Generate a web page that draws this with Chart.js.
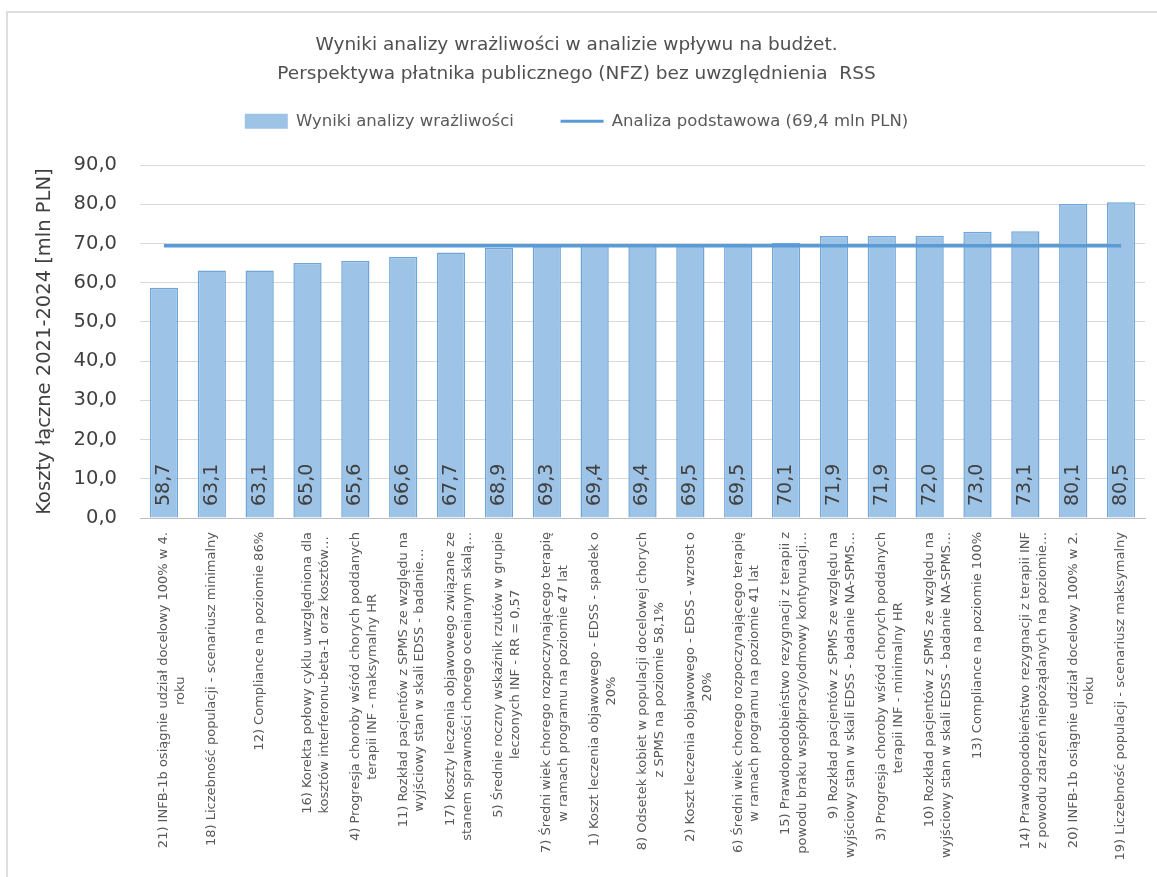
<!DOCTYPE html>
<html>
<head>
<meta charset="utf-8">
<script src="https://cdn.jsdelivr.net/npm/chart.js@4.4.1/dist/chart.umd.min.js"></script>
<style>
  html, body { margin: 0; padding: 0; background: #fff; overflow: hidden; }
  .frame {
    position: absolute; left: 6px; top: 11px;
    width: 1160px; height: 866px;
    border: 2px solid #dedede;
  }
  canvas { display: block; }
</style>
</head>
<body>
<div class="frame">
  <canvas id="chart" width="1160" height="866"></canvas>
</div>
<script>
// scenariusze analizy wrażliwości (etykiety osi X)
const scenarios = [
    ["21) INFB-1b osiągnie udział docelowy 100% w 4.", "roku"],
    ["18) Liczebność populacji - scenariusz minimalny"],
    ["12) Compliance na poziomie 86%"],
    ["16) Korekta połowy cyklu uwzględniona dla", "kosztów interferonu-beta-1 oraz kosztów…"],
    ["4) Progresja choroby wśród chorych poddanych", "terapii INF - maksymalny HR"],
    ["11) Rozkład pacjentów z SPMS ze względu na", "wyjściowy stan w skali EDSS - badanie…"],
    ["17) Koszty leczenia objawowego związane ze", "stanem sprawności chorego ocenianym skalą…"],
    ["5) Średnie roczny wskaźnik rzutów w grupie", "leczonych INF - RR = 0,57"],
    ["7) Średni wiek chorego rozpoczynającego terapię", "w ramach programu na poziomie 47 lat"],
    ["1) Koszt leczenia objawowego - EDSS - spadek o", "20%"],
    ["8) Odsetek kobiet w populacji docelowej chorych", "z SPMS na poziomie 58,1%"],
    ["2) Koszt leczenia objawowego - EDSS - wzrost o", "20%"],
    ["6) Średni wiek chorego rozpoczynającego terapię", "w ramach programu na poziomie 41 lat"],
    ["15) Prawdopodobieństwo rezygnacji z terapii z", "powodu braku współpracy/odmowy kontynuacji…"],
    ["9) Rozkład pacjentów z SPMS ze względu na", "wyjściowy stan w skali EDSS - badanie NA-SPMS…"],
    ["3) Progresja choroby wśród chorych poddanych", "terapii INF - minimalny HR"],
    ["10) Rozkład pacjentów z SPMS ze względu na", "wyjściowy stan w skali EDSS - badanie NA-SPMS…"],
    ["13) Compliance na poziomie 100%"],
    ["14) Prawdopodobieństwo rezygnacji z terapii INF", "z powodu zdarzeń niepożądanych na poziomie…"],
    ["20) INFB-1b osiągnie udział docelowy 100% w 2.", "roku"],
    ["19) Liczebność populacji - scenariusz maksymalny"],
];

// koszty łączne 2021-2024 [mln PLN]
const sensitivity = [58.7, 63.1, 63.1, 65.0, 65.6, 66.6, 67.7, 68.9, 69.3, 69.4, 69.4,
    69.5, 69.5, 70.1, 71.9, 71.9, 72.0, 73.0, 73.1, 80.1, 80.5];
const baseCase = 69.4;
const baseLine = scenarios.map(() => baseCase);

const yTicks = [0, 10, 20, 30, 40, 50, 60, 70, 80, 90];

const FONT = "'DejaVu Sans', sans-serif";
const BAR_FILL = "#9dc3e6";
const BAR_EDGE = "#6fa5d8";
const LINE_COLOR = "#5b9bd5";
const TEXT = "#595959";
const LABEL_SIZE = 13;

const fmt = (v) => v.toFixed(1).replace(".", ",");

// Chart.js wyrównuje obrócone etykiety do osi, druga linia ma być na środku,
// więc dopełniamy ją spacjami
const measureCtx = document.createElement("canvas").getContext("2d");
measureCtx.font = LABEL_SIZE + "px " + FONT;
function centerLines(lines) {
    if (lines.length < 2) return lines;
    const w0 = measureCtx.measureText(lines[0]).width;
    const sp = measureCtx.measureText(" ").width;
    return lines.map((l) => {
        const w = measureCtx.measureText(l).width;
        const n = Math.max(0, Math.round((w0 - w) / 2 / sp));
        return l + " ".repeat(n);
    });
}

// wartości wpisane w słupki, obrócone o 90 stopni
const barValueLabels = {
    id: "barValueLabels",
    afterDatasetsDraw(chart) {
        const meta = chart.getDatasetMeta(1);
        const bottom = chart.scales.y.bottom;
        const ctx = chart.ctx;
        ctx.save();
        ctx.font = "19px " + FONT;
        ctx.fillStyle = "#404040";
        ctx.textAlign = "left";
        ctx.textBaseline = "middle";
        meta.data.forEach((bar, i) => {
            ctx.save();
            ctx.translate(bar.x, bottom - 12);
            ctx.rotate(-Math.PI / 2);
            ctx.fillText(fmt(sensitivity[i]), 0, 0);
            ctx.restore();
        });
        ctx.restore();
    }
};

// więcej miejsca pod legendą
const legendSpace = {
    id: "legendSpace",
    beforeInit(chart) {
        const orig = chart.legend.fit;
        chart.legend.fit = function () {
            orig.call(this);
            this.height = 62;
        };
    }
};

new Chart(document.getElementById("chart"), {
    type: "bar",
    data: {
        labels: scenarios,
        datasets: [
            {
                type: "line",
                label: "Analiza podstawowa (69,4 mln PLN)",
                data: baseLine,
                borderColor: LINE_COLOR,
                borderWidth: 3.5,
                pointRadius: 0,
                fill: false,
            },
            {
                label: "Wyniki analizy wrażliwości",
                data: sensitivity,
                backgroundColor: BAR_FILL,
                borderColor: BAR_EDGE,
                borderWidth: 1.5,
                categoryPercentage: 0.59,
                barPercentage: 1,
            },
        ]
    },
    plugins: [barValueLabels, legendSpace],
    options: {
        responsive: false,
        animation: false,
        layout: { padding: { left: 0, right: 23, top: 0, bottom: 0 } },
        plugins: {
            tooltip: { enabled: false },
            title: {
                display: true,
                text: ["Wyniki analizy wrażliwości w analizie wpływu na budżet.",
                    "Perspektywa płatnika publicznego (NFZ) bez uwzględnienia  RSS"],
                color: "#505050",
                font: { family: FONT, size: 18.5, weight: "normal", lineHeight: 1.57 },
                padding: { top: 18, bottom: 14 },
            },
            legend: {
                position: "top",
                labels: {
                    color: TEXT,
                    font: { family: FONT, size: 16.5 },
                    usePointStyle: true,
                    pointStyleWidth: 43,
                    boxHeight: 15,
                    padding: 10,
                    generateLabels: () => [
                        {
                            text: "Wyniki analizy wrażliwości       ",
                            fillStyle: BAR_FILL, strokeStyle: BAR_FILL, lineWidth: 0,
                            pointStyle: "rect", datasetIndex: 1, hidden: false, fontColor: TEXT,
                        },
                        {
                            text: "Analiza podstawowa (69,4 mln PLN)",
                            fillStyle: LINE_COLOR, strokeStyle: LINE_COLOR, lineWidth: 3,
                            pointStyle: "line", datasetIndex: 0, hidden: false, fontColor: TEXT,
                        },
                    ],
                },
            },
        },
        scales: {
            x: {
                grid: { display: false },
                border: { display: true, color: "#bfbfbf", width: 1 },
                ticks: {
                    color: TEXT,
                    font: { family: FONT, size: LABEL_SIZE, lineHeight: 1.3 },
                    minRotation: 90,
                    maxRotation: 90,
                    autoSkip: false,
                    padding: 6,
                    callback(value) { return centerLines(scenarios[value]); },
                },
                afterFit(scale) { scale.height = 361; },
            },
            y: {
                min: 0,
                max: 90,
                afterBuildTicks(scale) { scale.ticks = yTicks.map((v) => ({ value: v })); },
                grid: { color: "#d9d9d9", drawTicks: false },
                border: { display: false },
                ticks: {
                    color: "#404040",
                    font: { family: FONT, size: 19.5 },
                    padding: 23,
                    callback: (v) => fmt(v),
                },
                title: {
                    display: true,
                    text: "Koszty łączne 2021-2024 [mln PLN]",
                    color: "#404040",
                    font: { family: FONT, size: 19.5 },
                    padding: { top: 25, bottom: 0 },
                },
                afterFit(scale) { scale.width = 132; },
            },
        },
    },
});
</script>
</body>
</html>
